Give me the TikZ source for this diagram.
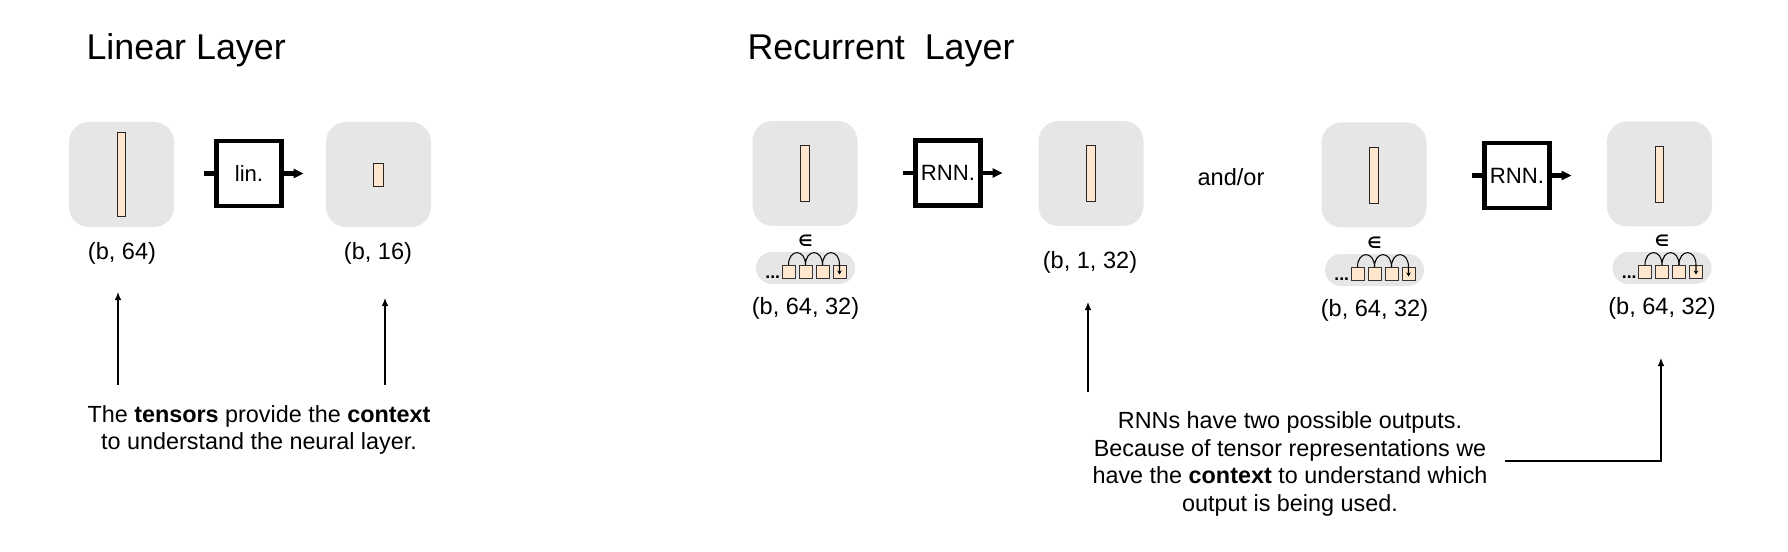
\documentclass[tikz,border=0pt]{standalone}
\usepackage{fontspec}
\setmainfont{Liberation Sans}
\newfontfamily\symf{DejaVu Sans}
\usetikzlibrary{positioning,arrows.meta,calc}
\definecolor{tilegray}{HTML}{E6E6E6}
\definecolor{peach}{HTML}{FFE6CC}
\tikzset{
  every picture/.style={line width=0.6pt},
  tile/.style={fill=tilegray,rectangle,rounded corners=0.4cm,minimum size=2.1cm,inner sep=0},
  vec/.style={draw=black!85,fill=peach,rectangle,minimum width=0.17cm,inner sep=0,line width=0.5pt},
  op/.style={draw,rectangle,line width=2.3pt,minimum size=1.3cm,inner sep=0,font=\fontsize{12.6}{14}\selectfont},
  oplink/.style={line width=2.3pt},
  opflow/.style={-{Triangle[length=2mm,width=1.8mm]},line width=2.3pt},
  lbl/.style={font=\fontsize{13.4}{15}\selectfont,inner sep=1pt},
  ttl/.style={font=\fontsize{20.4}{24}\selectfont,anchor=base west,inner sep=0},
  note/.style={font=\fontsize{13.3}{15.8}\selectfont,align=center,inner sep=1pt},
  pill/.style={fill=tilegray,rectangle,rounded corners=0.32cm,minimum width=1.98cm,minimum height=0.64cm,inner sep=0},
  cell/.style={draw=black!80,fill=peach,rectangle,minimum size=0.26cm,inner sep=0,line width=0.5pt},
  epsl/.style={font=\symf\bfseries\fontsize{9}{10}\selectfont,inner sep=0},
  dots/.style={font=\bfseries\fontsize{10}{12}\selectfont,inner sep=0},
  hop/.style={out=90,in=90,looseness=2.5},
  ptr/.style={-{Latex[length=1.6mm,width=1.3mm]}},
}
\newcommand{\seqrow}[4]{% name, x, y (pill centre), shape label
  \node[pill] (#1) at (#2,#3) {};
  \node[epsl] (#1e) at (#2,#3+0.54) {∈};
  \foreach \k in {0,...,3}{
    \node[cell] (#1c\k) at (#2-0.34+0.34*\k,#3-0.08) {};
  }
  \node[dots,anchor=base east] (#1d) at ([xshift=-0.02cm]#1c0.south west) {...};
  \draw (#1c0.north) to[hop] (#1c1.north) to[hop] (#1c2.north);
  \draw[-{Stealth[length=0.8mm,width=0.9mm]}] (#1c2.north) to[hop] (#1c3.north) -- ([yshift=-0.05cm]#1c3.center);
  \node[lbl] (#1l) at (#2,#3-0.8) {#4};}

\begin{document}
\begin{tikzpicture}[x=1cm,y=1cm]
\useasboundingbox (0,0) rectangle (35.76,11.02);
% --- linear layer ---
\node[ttl] (tLin) at (1.72,9.82) {Linear Layer};
\node[tile] (inL) at (2.43,7.53) {};
\node[vec,minimum height=1.68cm] (vInL) at (inL) {};
\node[op] (lin) at (4.98,7.55) {lin.};
\draw[oplink] (lin.west) -- ++(-0.2,0);
\draw[opflow] (lin.east) -- ++(0.4,0);
\node[tile] (outL) at (7.57,7.53) {};
\node[vec,minimum width=0.19cm,minimum height=0.46cm] (vOutL) at (outL) {};
\node[lbl] (sInL) at (2.44,5.96) {(b, 64)};
\node[lbl] (sOutL) at (7.56,5.96) {(b, 16)};
% --- recurrent layer ---
\node[ttl] (tRec) at (14.94,9.82) {Recurrent\ \ Layer};
\node[tile] (inA) at (16.10,7.55) {};
\node[vec,minimum width=0.19cm,minimum height=1.12cm] (vInA) at (inA) {};
\node[op] (rnnA) at (18.96,7.56) {RNN.};
\draw[oplink] (rnnA.west) -- ++(-0.2,0);
\draw[opflow] (rnnA.east) -- ++(0.4,0);
\node[tile] (outA) at (21.82,7.55) {};
\node[vec,minimum width=0.17cm,minimum height=1.12cm] (vOutA) at (outA) {};
\node[lbl] (sOutA) at (21.80,5.78) {(b, 1, 32)};
\node[lbl] (andor) at (24.62,7.48) {and/or};
\node[tile] (inB) at (27.48,7.52) {};
\node[vec,minimum width=0.19cm,minimum height=1.12cm] (vInB) at (inB) {};
\node[op] (rnnB) at (30.34,7.51) {RNN.};
\draw[oplink] (rnnB.west) -- ++(-0.2,0);
\draw[opflow] (rnnB.east) -- ++(0.4,0);
\node[tile] (outB) at (33.19,7.54) {};
\node[vec,minimum width=0.17cm,minimum height=1.12cm] (vOutB) at (outB) {};
% --- sequences ---
\seqrow{qA}{16.11}{5.66}{(b, 64, 32)}
\seqrow{qB}{27.49}{5.62}{(b, 64, 32)}
\seqrow{qC}{33.24}{5.66}{(b, 64, 32)}
% --- notes ---
\node[note] (nL) at (5.18,2.42) {The \textbf{tensors} provide the \textbf{context}\\ to understand the neural layer.};
\node[note] (nR) at (25.80,1.74) {RNNs have two possible outputs.\\Because of tensor representations we\\have the \textbf{context} to understand which\\output is being used.};
\coordinate (aL1) at (2.36,3.32);  \coordinate (hL1) at (2.36,5.18);
\coordinate (aL2) at (7.70,3.32);  \coordinate (hL2) at (7.70,5.06);
\coordinate (aM) at (21.76,3.18);  \coordinate (hM) at (21.76,4.98);
\coordinate (aR) at (30.10,1.80);  \coordinate (hR) at (33.22,3.86);
\draw[ptr] (aL1) -- (hL1);
\draw[ptr] (aL2) -- (hL2);
\draw[ptr] (aM) -- (hM);
\draw[ptr] (aR) -| (hR);
\end{tikzpicture}
\end{document}
